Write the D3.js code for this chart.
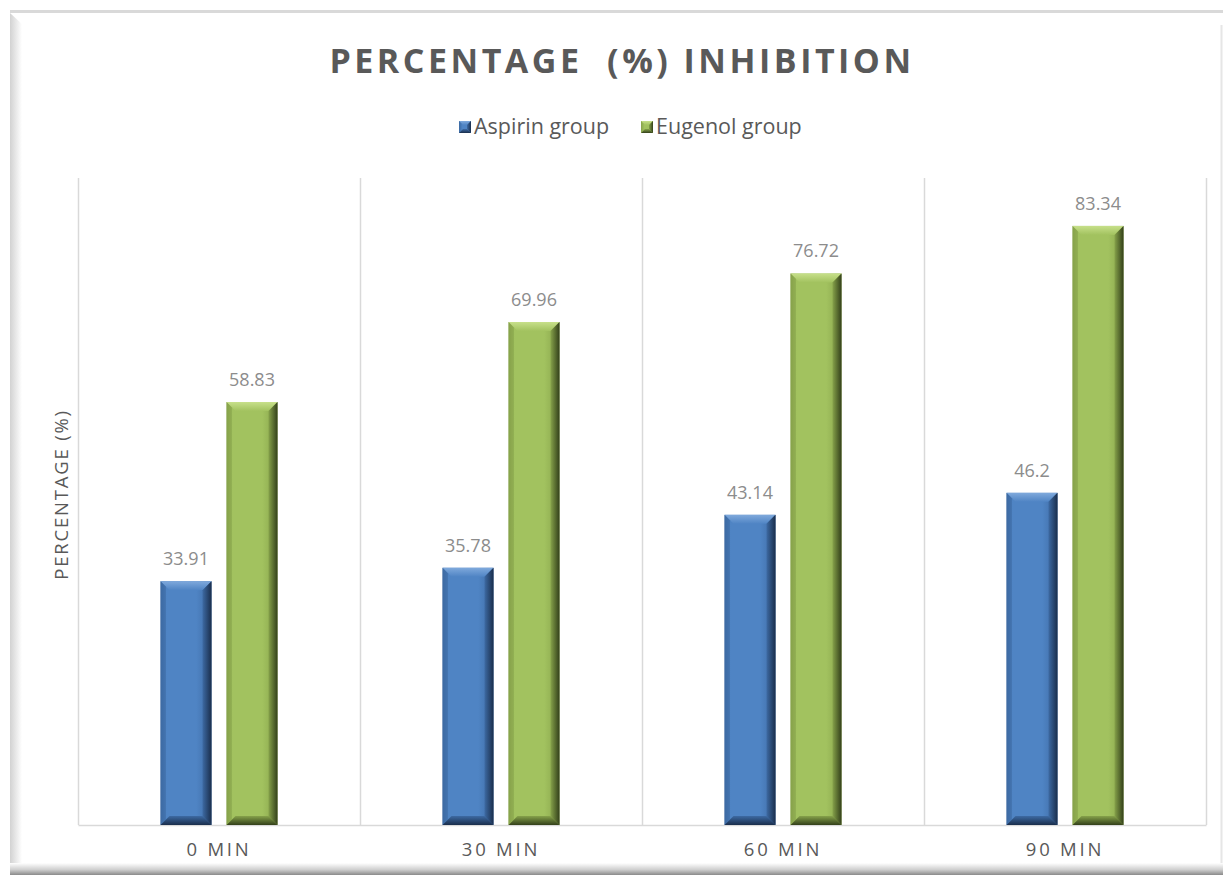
<!DOCTYPE html>
<html>
<head>
<meta charset="utf-8">
<script src="https://cdn.jsdelivr.net/npm/d3@7"></script>
<style>
  html, body { margin: 0; padding: 0; background: #ffffff; }
  svg { display: block; }
</style>
</head>
<body>
<svg id="chart" width="1223" height="875"></svg>
<script>
// Percentage inhibition at each time point, per treatment group
const categories = ["0 MIN", "30 MIN", "60 MIN", "90 MIN"];
const seriesNames = ["Aspirin group", "Eugenol group"];
const aspirinValues = [33.91, 35.78, 43.14, 46.2];
const eugenolValues = [58.83, 69.96, 76.72, 83.34];
const yDomain = [0, 90];

const seriesValues = [aspirinValues, eugenolValues];
const palette = [
  { base: "#4f84c4", light: "#7fa9dc", dark: "#1a2e4c", mid: "#3d6aa3" },
  { base: "#a2c25f", light: "#c7e08a", dark: "#33401a", mid: "#86a24a" }
];

const FONT = "'Open Sans', Lato, sans-serif";
const svg = d3.select("#chart");
const W = 1223, H = 875;
const plot = { left: 78, right: 1206, top: 178, bottom: 825 };

const defs = svg.append("defs");

// Frame shading
const gLeft = defs.append("linearGradient").attr("id", "frameLeft").attr("x1", 0).attr("x2", 1).attr("y1", 0).attr("y2", 0);
gLeft.append("stop").attr("offset", "0%").attr("stop-color", "#d2d2d2");
gLeft.append("stop").attr("offset", "100%").attr("stop-color", "#ffffff");
const gBottom = defs.append("linearGradient").attr("id", "frameBottom").attr("x1", 0).attr("x2", 0).attr("y1", 0).attr("y2", 1);
gBottom.append("stop").attr("offset", "0%").attr("stop-color", "#ffffff");
gBottom.append("stop").attr("offset", "55%").attr("stop-color", "#cfcfcf");
gBottom.append("stop").attr("offset", "100%").attr("stop-color", "#8a8a8a");

svg.append("rect").attr("x", 10).attr("y", 10).attr("width", W - 10).attr("height", H - 10).attr("fill", "#ffffff");
svg.append("rect").attr("x", 10).attr("y", 10).attr("width", W - 10).attr("height", 3).attr("fill", "#d9d9d9");
svg.append("path")
  .attr("d", `M10,13 L22,24 L22,${H - 12} L10,${H - 6} Z`)
  .attr("fill", "url(#frameLeft)");
svg.append("rect").attr("x", 10).attr("y", H - 12).attr("width", W - 10).attr("height", 12).attr("fill", "url(#frameBottom)");
svg.append("line").attr("x1", W - 1.5).attr("x2", W - 1.5).attr("y1", 25).attr("y2", H - 12)
  .attr("stroke", "#e6e6e6").attr("stroke-width", 2);

// Scales
const x0 = d3.scaleBand().domain(categories).range([plot.left, plot.right]).paddingInner(0).paddingOuter(0);
const groupW = x0.bandwidth() * 0.415;
const x1 = d3.scaleBand().domain(seriesNames)
  .range([(x0.bandwidth() - groupW) / 2, (x0.bandwidth() + groupW) / 2])
  .paddingInner(0.227).paddingOuter(0);
const y = d3.scaleLinear().domain(yDomain).range([plot.bottom, plot.top]);

// Vertical gridlines at category boundaries
const boundaries = categories.map(c => x0(c)).concat([x0(categories[categories.length - 1]) + x0.bandwidth()]);
svg.append("g").selectAll("line").data(boundaries).join("line")
  .attr("x1", d => d + 0.5).attr("x2", d => d + 0.5)
  .attr("y1", plot.top).attr("y2", plot.bottom)
  .attr("stroke", "#d9d9d9").attr("stroke-width", 1.5);

// Category axis
const xAxis = svg.append("g").attr("transform", `translate(0,${plot.bottom})`)
  .call(d3.axisBottom(x0).tickSize(0).tickPadding(18));
xAxis.select(".domain").attr("stroke", "#d9d9d9").attr("stroke-width", 1.5);
xAxis.selectAll("text")
  .attr("font-family", FONT)
  .attr("font-size", 18.5).attr("fill", "#595959")
  .attr("letter-spacing", "2.8px");

// Gradients for bevelled bars
palette.forEach((p, i) => {
  const body = defs.append("linearGradient").attr("id", `body${i}`).attr("x1", 0).attr("x2", 1).attr("y1", 0).attr("y2", 0);
  body.append("stop").attr("offset", "0%").attr("stop-color", p.mid);
  body.append("stop").attr("offset", "12%").attr("stop-color", p.base);
  body.append("stop").attr("offset", "70%").attr("stop-color", p.base);
  body.append("stop").attr("offset", "100%").attr("stop-color", p.mid);
  const right = defs.append("linearGradient").attr("id", `right${i}`).attr("x1", 0).attr("x2", 1).attr("y1", 0).attr("y2", 0);
  right.append("stop").attr("offset", "0%").attr("stop-color", p.mid);
  right.append("stop").attr("offset", "100%").attr("stop-color", p.dark);
  const top = defs.append("linearGradient").attr("id", `top${i}`).attr("x1", 0).attr("x2", 0).attr("y1", 0).attr("y2", 1);
  top.append("stop").attr("offset", "0%").attr("stop-color", p.light);
  top.append("stop").attr("offset", "100%").attr("stop-color", p.base);
  const bottom = defs.append("linearGradient").attr("id", `bottom${i}`).attr("x1", 0).attr("x2", 0).attr("y1", 0).attr("y2", 1);
  bottom.append("stop").attr("offset", "0%").attr("stop-color", p.mid);
  bottom.append("stop").attr("offset", "100%").attr("stop-color", p.dark);
});

function bevelBar(g, x, yTop, w, h, i, b) {
  const x2 = x + w, y2 = yTop + h;
  g.append("rect").attr("x", x).attr("y", yTop).attr("width", w).attr("height", h).attr("fill", `url(#body${i})`);
  g.append("path").attr("d", `M${x},${yTop} L${x2},${yTop} L${x2 - b},${yTop + b} L${x + b},${yTop + b} Z`).attr("fill", `url(#top${i})`);
  g.append("path").attr("d", `M${x},${y2} L${x2},${y2} L${x2 - b},${y2 - b} L${x + b},${y2 - b} Z`).attr("fill", `url(#bottom${i})`);
  g.append("path").attr("d", `M${x2},${yTop} L${x2},${y2} L${x2 - b},${y2 - b} L${x2 - b},${yTop + b} Z`).attr("fill", `url(#right${i})`);
  g.append("path").attr("d", `M${x},${yTop} L${x},${y2} L${x + b * 0.6},${y2 - b * 0.6} L${x + b * 0.6},${yTop + b * 0.6} Z`)
    .attr("fill", palette[i].mid).attr("opacity", 0.55);
}

// Bars and value labels
const rows = [];
categories.forEach((c, ci) => {
  seriesNames.forEach((s, si) => rows.push({ cat: c, series: s, si, value: seriesValues[si][ci] }));
});
const barsG = svg.append("g");
rows.forEach(d => {
  const bx = x0(d.cat) + x1(d.series);
  const by = y(d.value);
  bevelBar(barsG.append("g"), bx, by, x1.bandwidth(), y(0) - by, d.si, 9);
});
svg.append("g").selectAll("text").data(rows).join("text")
  .attr("x", d => x0(d.cat) + x1(d.series) + x1.bandwidth() / 2)
  .attr("y", d => y(d.value) - 16)
  .attr("text-anchor", "middle")
  .attr("font-family", FONT)
  .attr("font-size", 18).attr("fill", "#8c8c8c")
  .text(d => d.value);

// Title
svg.append("text")
  .attr("x", 622).attr("y", 73)
  .attr("text-anchor", "middle")
  .attr("font-family", FONT)
  .attr("font-weight", 700).attr("font-size", 34)
  .attr("letter-spacing", "3.5px")
  .attr("fill", "#595959")
  .attr("xml:space", "preserve")
  .text("PERCENTAGE  (%) INHIBITION");

// Legend
const legend = svg.append("g");
const legendItems = [
  { name: seriesNames[0], x: 459, i: 0 },
  { name: seriesNames[1], x: 641, i: 1 }
];
legendItems.forEach(it => {
  bevelBar(legend.append("g"), it.x, 121, 12, 12, it.i, 4);
  legend.append("text")
    .attr("x", it.x + 15).attr("y", 134)
    .attr("font-family", FONT)
    .attr("font-size", 21.5).attr("fill", "#595959")
    .text(it.name);
});

// Value axis title
svg.append("text")
  .attr("transform", `translate(68,${(plot.top + plot.bottom) / 2 - 7}) rotate(-90)`)
  .attr("text-anchor", "middle")
  .attr("font-family", FONT)
  .attr("font-size", 18.5).attr("fill", "#595959")
  .attr("letter-spacing", "1.8px")
  .text("PERCENTAGE (%)");
</script>
</body>
</html>
